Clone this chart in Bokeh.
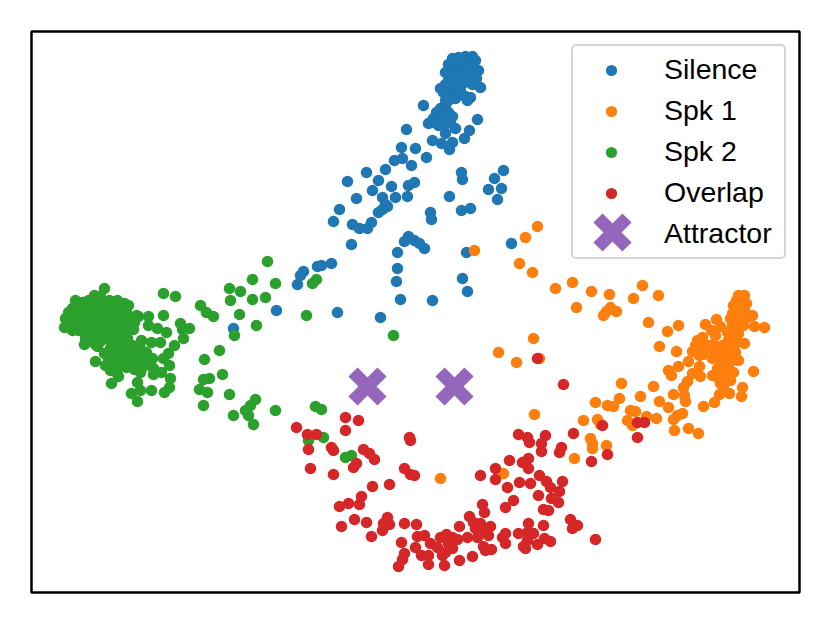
from bokeh.plotting import figure
from bokeh.models import Range1d
from bokeh.embed import file_html
from bokeh.resources import INLINE

# Values (embedding coordinates in picture units)
silence = [(480,87),(423,105),(477,119),(406,129),(428,123),(469,130),(464,138),(455,128),(445,133),(432,140),(441,143),(452,142),(449,149),(401,147),(415,148),(426,157),(394,160),(402,158),(411,165),(385,169),(366,172),(378,180),(347,181),(461,172),(462,179),(503,170),(494,178),(488,189),(501,188),(391,186),(414,182),(408,185),(372,190),(382,197),(395,197),(407,196),(449,196),(356,198),
(452,58),(458,57),(465,56),(472,56),(475,60),(470,62),(462,62),(455,64),(448,64),(450,70),(458,70),(466,68),(474,68),(478,70),(445,72),(452,76),(460,76),(468,75),(476,78),(448,80),(456,82),(464,82),(472,84),(445,84),(452,88),(460,90),(440,88),(443,92),(450,94),(458,94),(465,96),(470,97),(467,100),(455,98),(448,100),(445,105),(440,108),(436,112),(442,114),(448,112),(433,118),(440,120),(447,118),(452,116),(438,125),(445,124),(450,122),(430,122),(445,100),
(339,209),(333,221),(352,224),(359,228),(371,222),(378,212),(385,204),(382,209),(387,206),(430,212),(431,219),(367,228),(351,244),(408,236),(414,240),(419,243),(404,241),(424,248),(397,252),(461,210),(470,208),(497,199),(511,243),(466,252),(462,278),(467,291),(397,268),(396,281),(400,299),(432,300),(380,317),(337,312),(321,265),(331,263),(303,271),(300,275),(297,284),(317,266),(276,310),(233,328)]
spk1 = [(642,285),(609,294),(633,298),(658,295),(610,307),(616,311),(603,315),(606,311),(648,322),(667,331),(678,325),(659,346),(676,351),(678,366),(668,370),(671,375),(621,383),(653,386),(619,398),(640,396),(607,405),(673,394),(659,401),(668,407),(630,410),(635,411),(646,416),(656,418),(627,420),(632,425),(673,419),(677,415),(682,413),(674,430),(688,428),(698,433),(703,406),(714,402),(685,401),(684,395),(683,387),(687,381),(692,373),(700,376),(699,366),(688,361),(692,351),(699,355),(703,354),(705,345),(697,340),(702,337),(705,324),(716,319),(720,326),(711,330),(715,335),(713,344),(717,352),(712,375),(717,368),(717,377),(727,357),(728,365),(725,373),(730,380),(723,387),(719,394),(729,393),(741,396),(742,387),(753,371),(738,360),(735,352),(728,340),(737,342),(744,343),(732,325),(737,330),(743,325),(754,326),(764,327),(752,315),(747,317),(732,313),(738,315),(733,305),(740,307),(746,303),(738,295),(744,295),(735,322),(738,333),(732,335),(728,350),(732,360),
(722,345),(708,345),(725,352),(733,345),(722,362),(733,372),(727,332),(736,300),(730,318),(744,310),(742,320),(700,345),(695,345),(707,352),(712,358),(718,358),(723,375),(720,383),
(474,250),(525,237),(537,226),(519,263),(532,272),(555,288),(572,282),(591,291),(576,307),(533,338),(498,352),(516,362),(539,358),(440,478),(534,414),(595,402),(613,406),(503,473),(574,458),(592,448),(592,443),(597,419),(600,424),(583,420),(590,438),(606,445)]
spk2 = [(104,288),(163,293),(175,296),(200,305),(206,312),(213,316),(229,288),(240,291),(230,300),(239,314),(234,335),(163,315),(138,316),(148,316),(148,325),(157,328),(166,332),(180,323),(189,328),(182,329),(183,338),(174,345),(168,353),(163,358),(169,365),(161,372),(153,374),(153,368),(170,378),(169,387),(164,392),(151,390),(140,390),(131,393),(137,401),(111,383),(118,376),(95,361),(137,382),(140,372),(141,340),(151,342),(160,342),(219,350),(204,359),(222,374),(209,378),(203,379),(199,389),(207,392),(203,405),(229,394),(233,415),
(245,410),(250,405),(255,399),(248,415),(253,424),(275,410),(315,406),(321,409),(308,440),(323,437),(312,283),(316,279),(306,315),(256,325),(393,335),(345,457),(351,455),(252,299),(265,297),(267,261),(252,279),(275,283),
(94,295),(100,296),(88,300),(95,302),(102,303),(109,300),(117,300),(124,303),(128,305),(72,308),(78,306),(84,308),(91,309),(98,310),(105,309),(112,307),(119,309),(126,312),(65,318),(72,315),(79,314),(86,316),(93,316),(100,317),(107,315),(114,315),(121,317),(128,318),(64,327),(71,323),(78,322),(85,323),(92,323),(99,324),(106,322),(113,322),(120,324),(127,325),(134,322),(78,330),(85,330),(92,331),(99,331),(106,329),(113,329),(120,331),(127,331),(133,329),(85,338),(92,338),(99,338),(106,337),(113,336),(120,338),(84,344),(97,346),(110,340),(95,344),(100,341),
(75,300),(82,302),(68,312),(136,315),(115,342),(72,330),(127,338),
(104,353),(110,348),(118,345),(125,342),(132,345),(140,348),(108,358),(115,354),(122,350),(130,352),(138,355),(146,352),(152,358),(105,365),(112,361),(120,358),(128,359),(136,362),(144,360),(150,364),(110,370),(118,366),(126,367),(134,369),(142,367),(116,372)]
overlap = [(331,447),(333,450),(363,449),(369,453),(374,459),(356,463),(353,467),(333,474),(404,468),(410,474),(414,475),(389,484),(372,486),(361,496),(348,503),(339,506),(359,504),(410,440),(354,519),(366,522),(341,526),(371,536),(387,517),(389,524),(383,523),(382,530),(404,523),(416,524),(401,542),(417,536),(424,535),(415,547),(421,555),(404,553),(402,559),(398,566),(428,564),(430,543),(437,547),(428,555),(444,565),(459,560),(472,556),(440,537),(446,534),(452,537),(457,539),(448,543),(445,552),(452,548),(442,555),(459,526),(467,537),(469,516),(473,522),(475,528),(480,523),(477,537),(483,530),(490,526),(488,535),(482,504),(484,512),(483,546),(485,550),(491,549),(502,537),(505,533),(505,543),(518,533),(528,523),(543,525),(527,532),(533,533),(527,540),(523,546),(525,548),(537,544),(544,538),(550,541),(570,519),(577,525),(572,528),(595,539),(505,507),(513,500),(543,509),(548,510),(558,502),(551,498),(538,495),(559,491),(550,487),(546,481),(539,475),(562,481),(530,483),(519,482),(507,487),(495,479),(480,475),(495,468),(509,460),(522,462),(528,458),(528,468),(529,442),(541,451),(541,443),(559,452),(561,447),(591,461),(607,454),
(296,427),(307,434),(316,434),(308,449),(310,468),(563,384),(537,358),(409,437),(644,422),(637,422),(637,437),(602,425),(345,417),(358,420),(345,430),(518,434),(527,437),(545,435),(573,433)]
attractor = [(367,386),(454,386)]
attractor_key = [(612,232)]

labels = ["Silence", "Spk 1", "Spk 2", "Overlap", "Attractor"]
colors = ["#1f77b4", "#ff7f0e", "#2ca02c", "#d62728", "#9467bd"]

p = figure(width=815, height=608, output_backend="svg", toolbar_location=None,
           x_range=Range1d(31, 799), y_range=Range1d(592, 31),
           min_border_left=31, min_border_right=16, min_border_top=31, min_border_bottom=16)
p.axis.visible = False
p.grid.visible = False
p.outline_line_color = "black"
p.outline_line_width = 2.5
p.background_fill_color = "white"
p.border_fill_color = "white"

for pts, lab, col in zip([silence, spk1, spk2, overlap], labels, colors):
    p.scatter([a for a, _ in pts], [b for _, b in pts], size=11.5, fill_color=col,
              line_color=None, legend_label=lab)
p.scatter([a for a, _ in attractor], [b for _, b in attractor], marker="x", size=41,
          line_color=colors[4], line_width=13)
# the legend draws every key at one size, so the big cross key sits under an empty entry
p.scatter([], [], marker="x", line_alpha=0, legend_label=labels[4])
p.scatter([a for a, _ in attractor_key], [b for _, b in attractor_key], marker="x", size=41,
          line_color=colors[4], line_width=13)

leg = p.legend[0]
leg.location = "top_right"
leg.margin = 13
leg.padding = 7
leg.spacing = 8
leg.glyph_height = 28
leg.glyph_width = 62
leg.label_standoff = 22
leg.label_width = 113
leg.label_text_font = "Liberation Sans"
leg.label_text_font_size = "28.5px"
leg.label_text_baseline = "middle"
leg.label_text_color = "black"
leg.border_line_color = "#cccccc"
leg.border_line_alpha = 0.8
leg.border_line_width = 2.5
leg.background_fill_alpha = 0
if hasattr(leg, "border_radius"):
    leg.border_radius = 5

open("out.html", "w").write(file_html(p, INLINE))
